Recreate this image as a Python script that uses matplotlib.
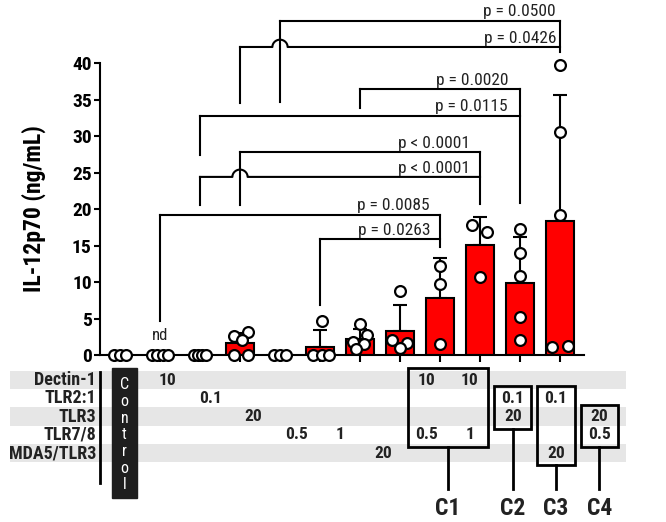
import numpy as np
import matplotlib.pyplot as plt
from matplotlib.patches import Rectangle

# condensed face, DejaVu as a fallback
plt.rcParams['font.family'] = ['Roboto Condensed', 'Liberation Sans', 'DejaVu Sans']

# Data ~~~~~~~~~~~~~~~~~~~~~~~~~~~~~~~~~~~~~~~~~~~~~~~~~~~~~~~~~~~~~~~~~~~~~~~~~~~

means = [0, 0, 0, 1.6, 0, 1.15, 2.2, 3.35, 7.8, 15.1, 9.9, 18.4]
sds = [0, 0, 0, 1.4, 0, 2.3, 1.3, 3.5, 5.5, 3.8, 6.3, 17.2]
points = [[0, 0, 0],
          [0, 0, 0, 0],
          [0, 0, 0, 0],
          [2.6, 3.2, 2.1, 0, 0],
          [0, 0, 0],
          [4.6, 0, 0, 0],
          [4.3, 2.7, 1.8, 1.5, 0.8],
          [8.7, 2.0, 1.7, 1.0],
          [12.2, 9.7, 1.5],
          [17.8, 16.9, 10.7],
          [17.3, 14.0, 10.8, 5.2, 2.1],
          [39.8, 30.5, 19.2, 1.05, 1.2]]
# horizontal scatter of the dots inside each bar
jitter = [[-0.14, 0, 0.14],
          [-0.2, -0.07, 0.07, 0.2],
          [-0.15, -0.05, 0.05, 0.15],
          [-0.15, 0.21, 0.04, -0.15, 0.21],
          [-0.15, 0, 0.15],
          [0.04, -0.17, 0.04, 0.23],
          [0, 0.18, -0.18, 0.1, -0.09],
          [0, -0.19, 0.18, 0],
          [0, 0, 0],
          [-0.19, 0.17, 0],
          [0, 0, 0, 0, 0],
          [0, 0, 0, -0.19, 0.19]]

# significance brackets: left group, right group, height, left foot, right foot, label, hump over
brackets = [(4, 11, 45.8, 34.7, 41.5, 'p = 0.0500', None),
            (3, 11, 42.2, 34.5, None, 'p = 0.0426', 4),
            (6, 10, 36.4, 33.8, 20.8, 'p = 0.0020', None),
            (2, 10, 32.8, 27.4, None, 'p = 0.0115', None),
            (3, 9, 27.8, 20.5, 20.7, 'p < 0.0001', None),
            (2, 9, 24.4, 20.5, None, 'p < 0.0001', 3),
            (1, 8, 19.2, 4.7, 14.75, 'p = 0.0085', None),
            (5, 8, 15.9, 6.8, None, 'p = 0.0263', None)]
label_gap = [0.1, 0.1, 0.3, 0.3, 0.25, 0.25, 0.25, 0.25]

# stimulation table
agonists = ['Dectin-1', 'TLR2:1', 'TLR3', 'TLR7/8', 'MDA5/TLR3']
doses = [(0, 1, '10'), (0, 7, '10'), (0, 8, '10'),
         (1, 2, '0.1'), (1, 9, '0.1'), (1, 10, '0.1'),
         (2, 3, '20'), (2, 9, '20'), (2, 11, '20'),
         (3, 4, '0.5'), (3, 5, '1'), (3, 7, '0.5'), (3, 8, '1'), (3, 11, '0.5'),
         (4, 6, '20'), (4, 10, '20')]
combos = [('C1', [7, 8]), ('C2', [9]), ('C3', [10]), ('C4', [11])]

# Plot ~~~~~~~~~~~~~~~~~~~~~~~~~~~~~~~~~~~~~~~~~~~~~~~~~~~~~~~~~~~~~~~~~~~~~~~~~~~

fig = plt.figure(figsize=(6.66, 5.22), dpi=100)
ax = fig.add_axes([100/666, 1-355/522, 484/666, 354/522])

x = np.arange(len(means))
ax.bar(x, means, width=0.7, color='#ff0000', edgecolor='black', linewidth=1.5, zorder=2)
ax.errorbar(x, means, yerr=[np.zeros(len(sds)), sds], fmt='none', ecolor='black',
            elinewidth=1.5, capsize=4.7, capthick=1.5, zorder=1)
for i in range(len(points)):
    ax.plot(i + np.array(jitter[i]), points[i], 'o', mfc='white', mec='black',
            ms=7.8, mew=1.6, clip_on=False, zorder=5)

ax.text(1, 2.7, 'nd', ha='center', va='center', fontsize=12, color='#222222')

for k, (left, right, y, lfoot, rfoot, label, hump) in enumerate(brackets):
    if hump is None:
        ax.plot([left, right], [y, y], color='black', lw=1.5, clip_on=False)
    else:
        t = np.linspace(np.pi, 0, 30)
        hx = np.concatenate([[left], hump + 0.19*np.cos(t), [right]])
        hy = np.concatenate([[y], y + 1.0*np.sin(t), [y]])
        ax.plot(hx, hy, color='black', lw=1.5, clip_on=False)
    ax.plot([left, left], [y, lfoot], color='black', lw=1.5, clip_on=False)
    if rfoot is not None:
        ax.plot([right, right], [y, rfoot], color='black', lw=1.5, clip_on=False)
    ax.text(right - label_gap[k], y + 0.6, label, ha='right', va='baseline',
            fontsize=12.5, color='#222222')

ax.set_xlim(-0.5, 11.6)
ax.set_ylim(0, 48.5)
ax.set_yticks(range(0, 41, 5))
ax.set_xticks(x)
ax.set_xticklabels([])
for s in ['top', 'right']:
    ax.spines[s].set_visible(False)
ax.spines['left'].set_bounds(0, 40)
ax.spines['left'].set_linewidth(1.5)
ax.spines['bottom'].set_linewidth(1.5)
ax.tick_params(axis='y', direction='out', length=4, width=1.5, labelsize=14, pad=2)
ax.tick_params(axis='x', direction='out', length=5, width=1.5)
for lab in ax.get_yticklabels():
    lab.set_fontweight('bold')
ax.set_ylabel('IL-12p70 (ng/mL)', fontsize=17, fontweight='bold')
ax.yaxis.set_label_coords(-0.112, 20/48.5)

# Table below the bars ~~~~~~~~~~~~~~~~~~~~~~~~~~~~~~~~~~~~~~~~~~~~~~~~~~~~~~~~~~~~

tb = fig.add_axes([0, 0, 1, 162/522])
tb.set_xlim(-2.870, 12.546)
tb.set_ylim(7.760, -1.093)
tb.axis('off')

for r, name in enumerate(agonists):
    if r % 2 == 0:
        tb.add_patch(Rectangle((-2.64, r - 0.5), 14.25, 1.0, color='#e6e6e6', lw=0, zorder=0))
    tb.text(-0.65, r, name, ha='right', va='center', fontsize=13, fontweight='bold', color='#222222')

tb.plot([-0.556, -0.556], [-0.45, 5.61], color='black', lw=2)

tb.add_patch(Rectangle((-0.285, -0.64), 0.593, 7.1, color='#1e1e1e', zorder=2))
for k, ch in enumerate('Control'):
    tb.text(0.01, 0.27 + 0.91*k, ch, ha='center', va='center', fontsize=11.5, color='white', zorder=3)

for r, c, txt in doses:
    tb.text(c, r, txt, ha='center', va='center', fontsize=12.5, fontweight='bold', color='#222222', zorder=3)

for name, cols in combos:
    rows = [r for r, c, txt in doses if c in cols]
    x0, x1 = min(cols) - 0.43, max(cols) + 0.43
    y0, y1 = min(rows) - 0.66, max(rows) + 0.66
    tb.add_patch(Rectangle((x0, y0), x1 - x0, y1 - y0, fill=False, ec='black', lw=2, zorder=2))
    xc = (x0 + x1)/2
    tb.plot([xc, xc], [y1, 5.96], color='black', lw=2)
    tb.text(xc, 7.0, name, ha='center', va='center', fontsize=17, fontweight='bold', color='#222222')

plt.savefig('out.png', dpi=100)
